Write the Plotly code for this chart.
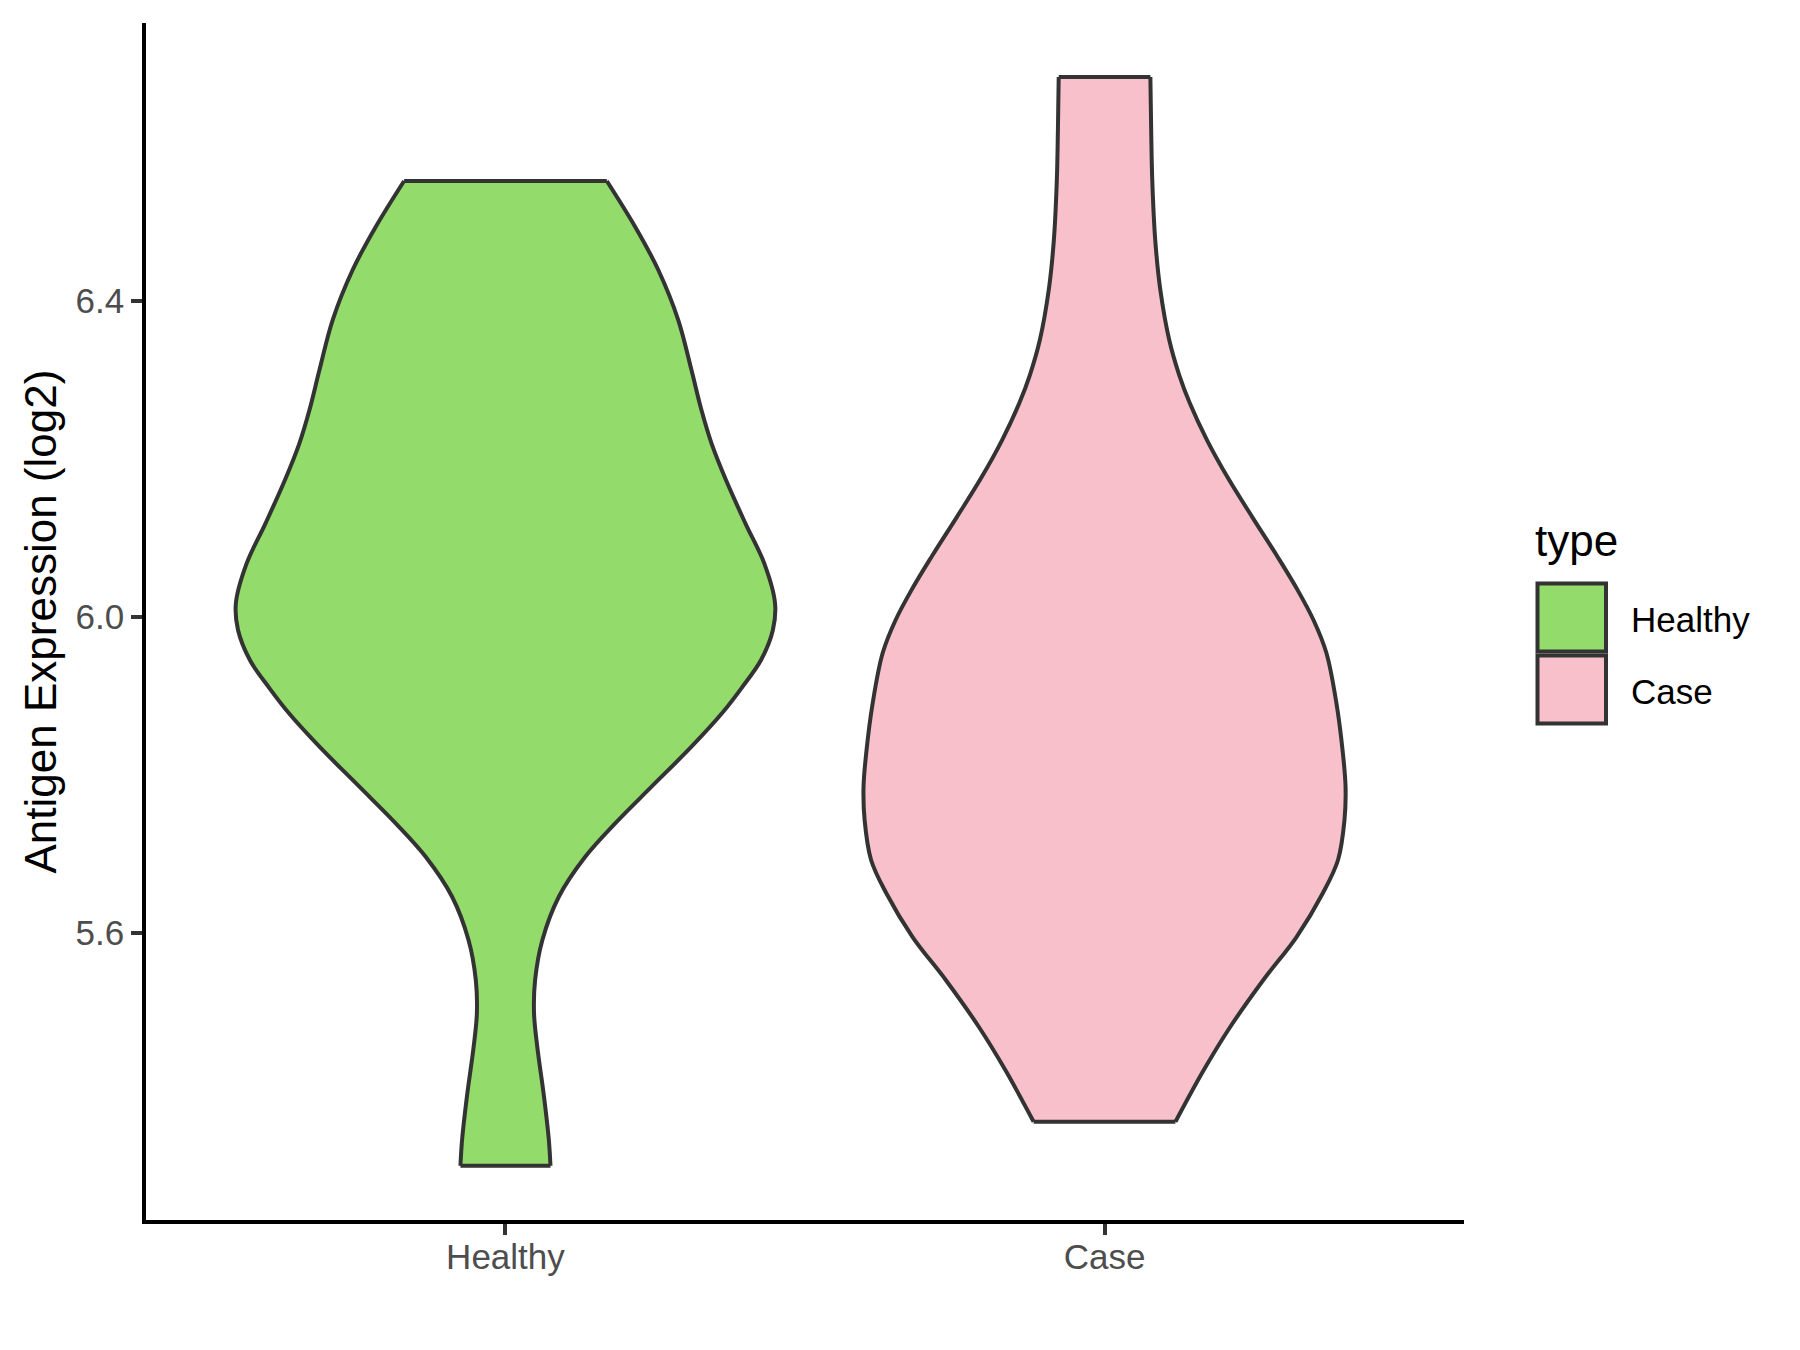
import plotly.graph_objects as go

# ---------------- data ----------------
categories = ["Healthy", "Case"]

# Healthy: expression levels (log2) along the violin and the relative density there
healthy_y = [6.5513, 6.4934, 6.4386, 6.3753, 6.3120, 6.2614, 6.2196, 6.1728, 6.1180,
             6.0673, 6.0167, 5.9829, 5.9449, 5.9091, 5.8775, 5.8352, 5.7846, 5.7382,
             5.6959, 5.6453, 5.5905, 5.5399, 5.4977, 5.4554, 5.3922, 5.3373, 5.3048]
healthy_density = [0.376, 0.481, 0.567, 0.641, 0.690, 0.727, 0.764, 0.818, 0.890,
                   0.960, 1.000, 0.992, 0.948, 0.875, 0.803, 0.690, 0.542, 0.407,
                   0.296, 0.198, 0.137, 0.110, 0.106, 0.118, 0.143, 0.161, 0.167]

# Case
case_y = [6.6829, 6.6158, 6.5525, 6.4766, 6.4133, 6.3500, 6.3057, 6.2703, 6.2234,
          6.1753, 6.1259, 6.0766, 6.0348, 5.9956, 5.9538, 5.8905, 5.8272, 5.7842,
          5.7424, 5.6918, 5.6500, 5.5943, 5.5399, 5.4804, 5.4259, 5.3605]
case_density = [0.170, 0.173, 0.177, 0.188, 0.207, 0.240, 0.277, 0.316, 0.380,
                0.458, 0.548, 0.640, 0.714, 0.775, 0.823, 0.860, 0.884, 0.894,
                0.890, 0.866, 0.810, 0.712, 0.589, 0.466, 0.368, 0.263]

y_ticks = [5.6, 6.0, 6.4]
y_tick_labels = ["5.6", "6.0", "6.4"]
legend_title = "type"
y_title = "Antigen Expression (log2)"

# ---------------- style ----------------
fills = {"Healthy": "#93DB6B", "Case": "#F7C0CB"}
outline = "#333333"
LW = 4
HALF_WIDTH = 0.45          # max half-width of a violin in category units
FONT = "Liberation Sans, Arial, sans-serif"

W, H = 1800, 1350
PAGE_OFF = 8               # default body margin of the html page
# plot area in page pixels
P_LEFT, P_RIGHT, P_TOP, P_BOTTOM = 146, 1464, 23, 1220
ML = P_LEFT - PAGE_OFF
MT = P_TOP - PAGE_OFF
MR = W - (P_RIGHT - PAGE_OFF)
MB = H - (P_BOTTOM - PAGE_OFF)
PW, PH = P_RIGHT - P_LEFT, P_BOTTOM - P_TOP


def px_x(px):
    return (px - P_LEFT) / PW


def px_y(py):
    return (P_BOTTOM - py) / PH


series = {"Healthy": (healthy_y, healthy_density), "Case": (case_y, case_density)}

fig = go.Figure()
edge_x, edge_y = [], []
for i, cat in enumerate(categories):
    ys, ds = series[cat]
    c = i + 1
    left_x = [c - HALF_WIDTH * d for d in ds]
    right_x = [c + HALF_WIDTH * d for d in ds]
    side_line = dict(color=outline, width=LW, shape="spline", smoothing=1.0)
    # left side of the violin
    fig.add_trace(go.Scatter(x=left_x, y=ys, mode="lines", line=side_line,
                             showlegend=False, hoverinfo="skip"))
    # right side, filled across to the left side (straight joins at top/bottom)
    fig.add_trace(go.Scatter(x=right_x, y=ys, mode="lines", line=side_line,
                             fill="tonextx", fillcolor=fills[cat], name=cat,
                             showlegend=False, hoverinfo="skip"))
    # flat top and bottom edges
    edge_x += [left_x[0], right_x[0], None, left_x[-1], right_x[-1], None]
    edge_y += [ys[0], ys[0], None, ys[-1], ys[-1], None]

fig.add_trace(go.Scatter(x=edge_x, y=edge_y, mode="lines",
                         line=dict(color=outline, width=LW), showlegend=False,
                         hoverinfo="skip", connectgaps=False))

fig.update_layout(
    width=W, height=H,
    margin=dict(l=ML, r=MR, t=MT, b=MB, pad=0),
    paper_bgcolor="white", plot_bgcolor="white",
    font=dict(family=FONT, color="black"),
    showlegend=False,
)

fig.update_xaxes(
    range=[0.4, 2.6], tickmode="array", tickvals=[1, 2], ticktext=categories,
    showgrid=False, zeroline=False, showline=True, linecolor="black", linewidth=3.5,
    ticks="outside", ticklen=11, tickwidth=3.5, tickcolor=outline,
    tickfont=dict(size=35, color="#4D4D4D", family=FONT), ticklabelstandoff=-8,
)
fig.update_yaxes(
    range=[5.2361, 6.7513], tickmode="array", tickvals=y_ticks, ticktext=y_tick_labels,
    showgrid=False, zeroline=False, showline=True, linecolor="black", linewidth=3.5,
    ticks="outside", ticklen=11, tickwidth=3.5, tickcolor=outline,
    tickfont=dict(size=35, color="#4D4D4D", family=FONT), ticklabelstandoff=0,
)

annotations = [
    dict(text=y_title, xref="paper", yref="paper", x=px_x(40), y=0.5,
         xanchor="center", yanchor="middle", textangle=-90, showarrow=False,
         font=dict(size=44, color="black", family=FONT)),
    dict(text=legend_title, xref="paper", yref="paper", x=px_x(1533), y=px_y(540),
         xanchor="left", yanchor="middle", showarrow=False,
         font=dict(size=44, color="black", family=FONT)),
]
shapes = []
key_tops = [583.5, 655.5]
for cat, top in zip(categories, key_tops):
    shapes.append(dict(type="rect", xref="paper", yref="paper",
                       x0=px_x(1537.5), x1=px_x(1606), y0=px_y(top + 68), y1=px_y(top),
                       fillcolor=fills[cat], line=dict(color=outline, width=4)))
    annotations.append(dict(text=cat, xref="paper", yref="paper", x=px_x(1629),
                            y=px_y(top + 36), xanchor="left", yanchor="middle",
                            showarrow=False, font=dict(size=35, color="black", family=FONT)))

fig.update_layout(annotations=annotations, shapes=shapes)

fig.write_html("out.html")
